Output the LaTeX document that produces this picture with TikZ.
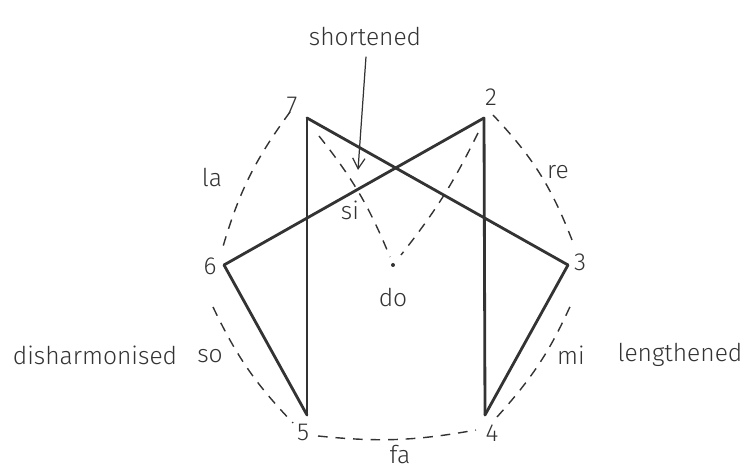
\documentclass[tikz,border=0pt]{standalone}
\usepackage{fontspec}
\setmainfont{Fira Sans Light}
\usetikzlibrary{arrows.meta}
\definecolor{ink}{HTML}{333333}
\tikzset{
  solidline/.style={draw=ink, line width=1.6pt, line cap=round, line join=round},
  dashline/.style={draw=ink, line width=0.8pt, dash pattern=on 5.5pt off 4.5pt},
  lbl/.style={text=ink, font=\fontsize{14}{16}\selectfont, inner sep=0pt},
  arrowline/.style={draw=ink, line width=0.7pt, -{Straight Barb[length=6pt,width=7pt]}}
}
\begin{document}
\begin{tikzpicture}[x=0.02cm, y=0.02cm]
\useasboundingbox (0,0) rectangle (747,469);
% vertices
\coordinate (v7) at (307,351);
\coordinate (v2) at (484,351);
\coordinate (v3) at (568,204);
\coordinate (v4) at (485,54);
\coordinate (v5) at (307,54);
\coordinate (v6) at (224,204);
\coordinate (do) at (393,204);
% solid lines
\draw[solidline] (v7) -- (v5);
\draw[solidline] (v7) -- (v3);
\draw[solidline] (v2) -- (v6);
\draw[solidline] (v2) -- (v4);
\draw[solidline] (v6) -- (v5);
\draw[solidline] (v3) -- (v4);
% dashed arcs round the figure
\coordinate (la1) at (290,357); \coordinate (la2) at (222,219);
\coordinate (so1) at (213,162); \coordinate (so2) at (293,46);
\coordinate (fa1) at (318,33);  \coordinate (fa2) at (476,39);
\coordinate (mi1) at (497,52);  \coordinate (mi2) at (573,169);
\coordinate (re1) at (572,229); \coordinate (re2) at (493,354);
\draw[dashline] (la1) to[bend right=10] (la2);
\draw[dashline] (so1) to[bend right=9] (so2);
\draw[dashline] (fa1) to[bend right=8] (fa2);
\draw[dashline] (mi1) to[bend right=9] (mi2);
\draw[dashline] (re1) to[bend right=11] (re2);
% dashed lines to do
\coordinate (s7) at (319,333);
\coordinate (e7) at (390,212);
\coordinate (s2) at (478,336);
\coordinate (e2) at (401,214);
\draw[dashline] (s7) to[bend left=8] (e7);
\draw[dashline] (s2) to[bend left=6] (e2);
\fill[ink] (do) circle (2);
% labels
\node[lbl] (l7) at (292,364) {7};
\node[lbl] (l2) at (491,372) {2};
\node[lbl] (l3) at (580,207) {3};
\node[lbl] (l4) at (492,36) {4};
\node[lbl] (l5) at (303,37) {5};
\node[lbl] (l6) at (210,203) {6};
\node[lbl] (ldo) at (393,171) {do};
\node[lbl] (lsi) at (350,259) {si};
\node[lbl] (lla) at (212,291) {la};
\node[lbl] (lre) at (558,297) {re};
\node[lbl] (lso) at (210,113) {so};
\node[lbl] (lmi) at (571,114) {mi};
\node[lbl] (lfa) at (400,14) {fa};
\node[lbl] (ldis) at (95,114) {disharmonised};
\node[lbl] (lleng) at (680,114) {lengthened};
\node[lbl] (lshort) at (365,432) {shortened};
\coordinate (atip) at (358,299);
\draw[arrowline] (lshort.south) ++(1,-10) -- (atip);
\end{tikzpicture}
\end{document}
